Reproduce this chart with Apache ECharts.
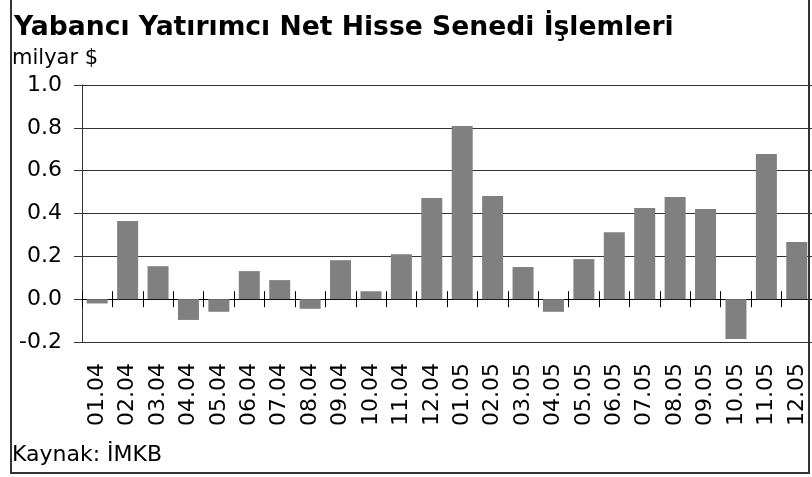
<!DOCTYPE html>
<html>
<head>
<meta charset="utf-8">
<script src="https://cdn.jsdelivr.net/npm/echarts@6/dist/echarts.min.js"></script>
<style>
  html, body { margin: 0; padding: 0; background: #fff; }
  #chart { width: 812px; height: 477px; }
</style>
</head>
<body>
<div id="chart"></div>
<script>
  // aylar (ay.yıl)
  const categories = ['01.04', '02.04', '03.04', '04.04', '05.04', '06.04', '07.04', '08.04', '09.04', '10.04', '11.04', '12.04',
    '01.05', '02.05', '03.05', '04.05', '05.05', '06.05', '07.05', '08.05', '09.05', '10.05', '11.05', '12.05']
  // net hisse senedi işlemleri, milyar $
  const netValues = [-0.02, 0.365, 0.154, -0.097, -0.059, 0.131, 0.089, -0.045, 0.182, 0.037, 0.21, 0.472,
    0.809, 0.482, 0.15, -0.059, 0.187, 0.313, 0.426, 0.477, 0.421, -0.186, 0.678, 0.267]
  const yMin = -0.2
  const yMax = 1.0
  const yStep = 0.2

  const font = 'DejaVu Sans'
  const lineColor = '#333'

  const chart = echarts.init(document.getElementById('chart'))
  const option = {
    animation: false,
    backgroundColor: '#fff',
    title: [
      {
        text: 'Yabancı Yatırımcı Net Hisse Senedi İşlemleri',
        left: 14,
        top: 15,
        padding: 0,
        textStyle: { fontFamily: font, fontWeight: 'bold', fontSize: 26.6, color: '#000' },
      },
      {
        text: 'milyar $',
        left: 12,
        top: 48,
        padding: 0,
        textStyle: { fontFamily: font, fontWeight: 'normal', fontSize: 21, color: '#000' },
      },
      {
        text: 'Kaynak: İMKB',
        left: 12,
        top: 444,
        padding: 0,
        textStyle: { fontFamily: font, fontWeight: 'normal', fontSize: 22, color: '#000' },
      },
    ],
    grid: {
      left: 82,
      right: 0,
      top: 85,
      bottom: 135,
      containLabel: false,
    },
    xAxis: [
      {
        // etiketler, alt kenarda
        type: 'category',
        data: categories,
        position: 'bottom',
        axisLine: { show: false, onZero: false },
        axisTick: { show: false },
        axisLabel: {
          interval: 0,
          rotate: 90,
          margin: 21,
          fontFamily: font,
          fontSize: 22,
          color: '#000',
        },
      },
      {
        // sıfır çizgisi, aşağı çentikler
        type: 'category',
        data: categories,
        position: 'bottom',
        axisLine: { show: true, onZero: true, onZeroAxisIndex: 0, lineStyle: { color: '#000', width: 1 } },
        axisTick: { show: true, interval: 0, length: 8, lineStyle: { color: '#000' } },
        axisLabel: { show: false, interval: 0 },
      },
      {
        // sıfır çizgisi, yukarı çentikler
        type: 'category',
        data: categories,
        position: 'top',
        axisLine: { show: true, onZero: true, onZeroAxisIndex: 1, lineStyle: { color: '#000', width: 1 } },
        axisTick: { show: true, interval: 0, length: 8, lineStyle: { color: '#000' } },
        axisLabel: { show: false, interval: 0 },
      },
    ],
    yAxis: [
      {
        type: 'value',
        min: yMin,
        max: yMax,
        interval: yStep,
        axisLine: { show: true, lineStyle: { color: lineColor } },
        axisTick: { show: true, length: 8, lineStyle: { color: lineColor } },
        axisLabel: {
          margin: 20,
          fontFamily: font,
          fontSize: 22,
          color: '#000',
          formatter: v => v.toFixed(1),
        },
        splitLine: { show: true, lineStyle: { color: lineColor, width: 1 } },
      },
      {
        // sadece üst çentikleri sıfıra oturtmak için
        type: 'value',
        min: yMin,
        max: yMax,
        interval: yStep,
        position: 'right',
        show: false,
        splitLine: { show: false },
      },
    ],
    graphic: [
      {
        type: 'rect',
        z: 100,
        shape: { x: 11, y: -5, width: 798, height: 478 },
        style: { fill: 'none', stroke: '#333', lineWidth: 2 },
      },
    ],
    series: [
      {
        name: 'Net',
        type: 'bar',
        xAxisIndex: 0,
        yAxisIndex: 0,
        data: netValues,
        barWidth: 21,
        itemStyle: { color: '#808080' },
      },
    ],
  }
  chart.setOption(option)
  window.addEventListener('resize', function () {
    chart && chart.resize()
  })
</script>
</body>
</html>
